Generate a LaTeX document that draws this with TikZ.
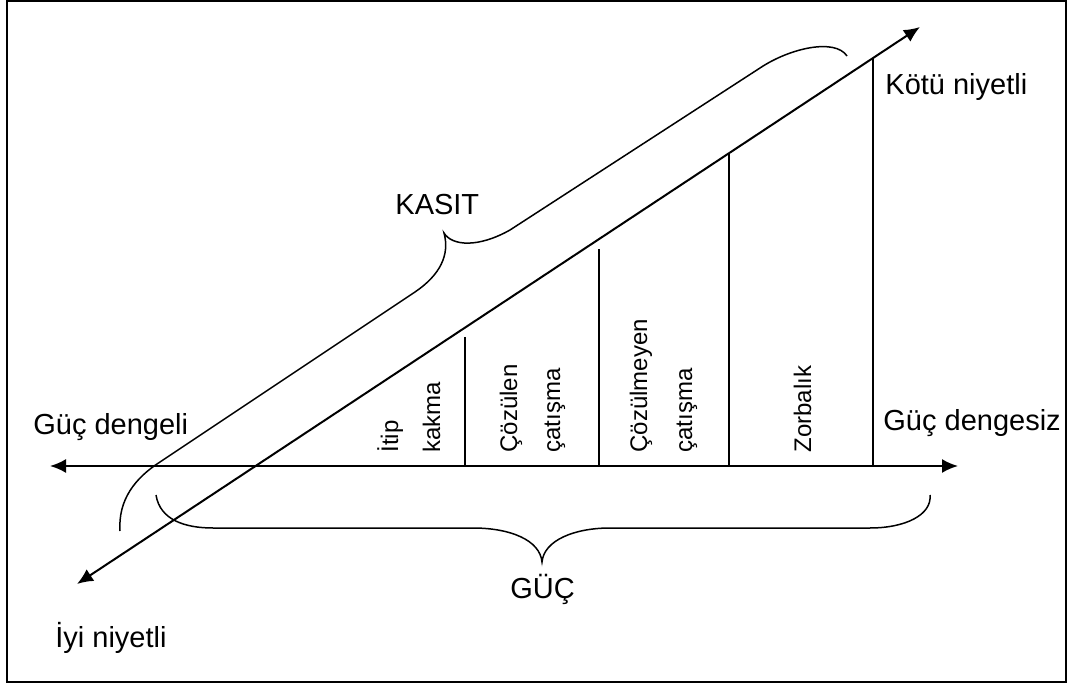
\documentclass[tikz,border=0pt]{standalone}
\usepackage{fontspec}
\setmainfont{Liberation Sans}
\usetikzlibrary{arrows.meta}
\tikzset{
  lbl/.style={inner sep=0pt, anchor=base west, font=\fontsize{14.5}{17}\selectfont},
  vlbl/.style={inner sep=0pt, rotate=90, anchor=base west, font=\fontsize{12}{14}\selectfont},
  axis/.style={line width=1pt, <->},
  brace/.style={line width=0.75pt},
}
\begin{document}
\begin{tikzpicture}[>={Latex[length=8pt,width=7pt]}, x=0.5pt, y=-0.5pt]
  \useasboundingbox (0,0) rectangle (1069,683);
  % 外框
  \draw[line width=0.75pt] (7,1) rectangle (1066,682);
  % 两条轴
  \coordinate (gL) at (50,466);
  \coordinate (gR) at (958,466);
  \coordinate (kL) at (77,584);
  \coordinate (kR) at (920,27);
  \draw[axis] (gL) -- (gR);
  \draw[axis] (kL) -- (kR);
  % 竖线
  \foreach \x/\y in {465/337, 599/249, 729/153, 873/58}
    \draw[line width=0.75pt] (\x,\y) -- (\x,466);
  % KASIT 括号
  \draw[brace] (120,531) .. controls (118,500) and (135,478) .. (160,462)
     -- (415,292) .. controls (440,275) and (450,255) .. (444,233)
     .. controls (452,246) and (478,248) .. (510,230)
     -- (760,68) .. controls (790,48) and (835,38) .. (847,56);
  % GÜÇ 括号
  \draw[brace] (156,495) .. controls (160,520) and (185,528) .. (213,528)
     -- (473,528) .. controls (510,528) and (540,540) .. (542,562)
     .. controls (544,540) and (575,528) .. (610,528)
     -- (870,528) .. controls (905,528) and (932,515) .. (930,495);
  % 文字
  \node[lbl] (kotu) at (885,95) {Kötü niyetli};
  \node[lbl] (dengesiz) at (883,430) {Güç dengesiz};
  \node[lbl] (dengeli) at (33,435) {Güç dengeli};
  \node[lbl] (iyi) at (55,647) {İyi niyetli};
  \node[lbl] (kasit) at (395,215) {KASIT};
  \node[lbl] (guc) at (510,598) {GÜÇ};
  % 竖排文字
  \node[vlbl] (itip) at (398,453) {İtip};
  \node[vlbl] (kakma) at (440,453) {kakma};
  \node[vlbl] (cozulen) at (517,453) {Çözülen};
  \node[vlbl] (catisma1) at (560,453) {çatışma};
  \node[vlbl] (cozulmeyen) at (647,453) {Çözülmeyen};
  \node[vlbl] (catisma2) at (692,453) {çatışma};
  \node[vlbl] (zorbalik) at (811,453) {Zorbalık};
\end{tikzpicture}
\end{document}
